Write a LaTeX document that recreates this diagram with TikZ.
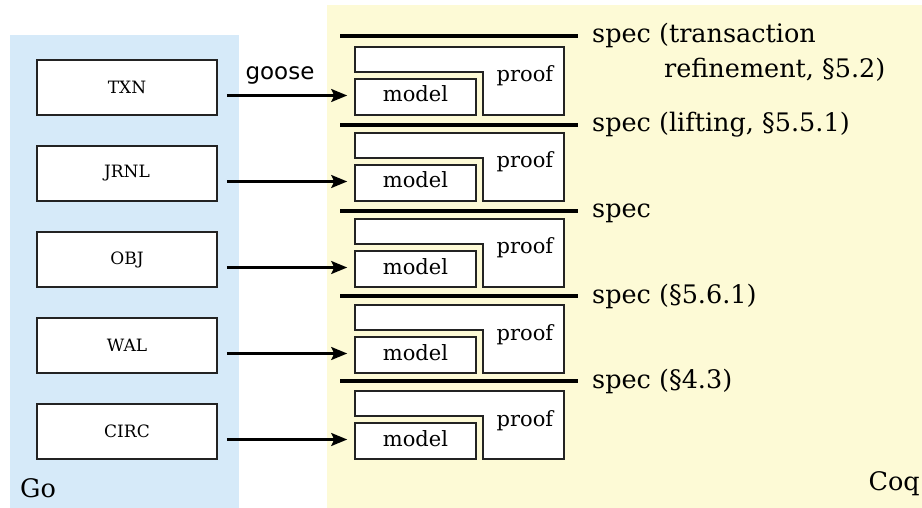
\documentclass[tikz,border=0pt]{standalone}
\usepackage{fontspec}
\setmainfont{DejaVu Serif}
\newfontfamily\toolfont{DejaVu Sans}
\usetikzlibrary{arrows.meta}
\definecolor{gobg}{RGB}{214,234,249}
\definecolor{coqbg}{RGB}{253,250,214}
\definecolor{edge}{RGB}{35,35,35}
\begin{document}
\begin{tikzpicture}[x=1pt,y=-1pt,
  gobox/.style={draw=edge, line width=1.6pt, fill=white, minimum width=180pt,
    minimum height=55pt, inner sep=0pt, font=\fontsize{17}{19}\selectfont},
  modelbox/.style={draw=edge, line width=1.6pt, fill=white, minimum width=121pt,
    minimum height=36pt, inner sep=0pt, text height=15pt, text depth=5pt,
    font=\fontsize{21}{24}\selectfont},
  proofshape/.style={draw=edge, line width=1.6pt, fill=white},
  prooflabel/.style={anchor=base, inner sep=0pt, font=\fontsize{21}{24}\selectfont},
  specline/.style={line width=3.6pt},
  speclabel/.style={anchor=base west, inner sep=0pt, font=\fontsize{25.5}{35}\selectfont},
  sidelabel/.style={inner sep=0pt, font=\fontsize{25.5}{30}\selectfont},
  feed/.style={line width=2.2pt, -{Stealth[length=16pt,width=13pt,inset=3pt]},
    shorten <=9pt, shorten >=7pt}]
\useasboundingbox (0,0) rectangle (922,508);

% language regions
\fill[gobg] (10,35) rectangle (239,508);
\fill[coqbg] (327,5) rectangle (922,508);

% spec boundaries between layers
\draw[specline] (340,36) -- (578,36);
\draw[specline] (340,125) -- (578,125);
\draw[specline] (340,211) -- (578,211);
\draw[specline] (340,296) -- (578,296);
\draw[specline] (340,381) -- (578,381);

% the base of a two-line node is the baseline of its last line
\node[speclabel, align=left] (spec0) at (592,78)
  {spec (transaction\\\hspace*{72pt}refinement, §5.2)};
\node[speclabel] (spec1) at (592,132) {spec (lifting, §5.5.1)};
\node[speclabel] (spec2) at (592,218) {spec};
\node[speclabel] (spec3) at (592,303) {spec (§5.6.1)};
\node[speclabel] (spec4) at (592,388) {spec (§4.3)};

% Go packages, their models and proofs
\foreach \i/\pkg in {0/TXN,1/JRNL,2/OBJ,3/WAL,4/CIRC} {
  \pgfmathsetmacro\dy{86*\i}
  \node[gobox] (go\i) at (127,87.5+\dy) {\pkg};
  \draw[proofshape] (355,47+\dy) -- (564,47+\dy) -- (564,115+\dy)
    -- (483,115+\dy) -- (483,72+\dy) -- (355,72+\dy) -- cycle;
  \node[modelbox] (model\i) at (415.5,97+\dy) {model};
  \node[prooflabel] (proof\i) at (525,82+\dy) {proof};
  \draw[feed] ([yshift=1.5pt]go\i.east |- model\i.west) -- ([yshift=1.5pt]model\i.west);
}

\node[anchor=base, inner sep=0pt, font=\toolfont\fontsize{23}{26}\selectfont]
  (goose) at (280,80) {goose};

\node[sidelabel, anchor=base west] (golabel) at (20,497) {Go};
\node[sidelabel, anchor=base east] (coqlabel) at (920,490) {Coq};
\end{tikzpicture}
\end{document}
